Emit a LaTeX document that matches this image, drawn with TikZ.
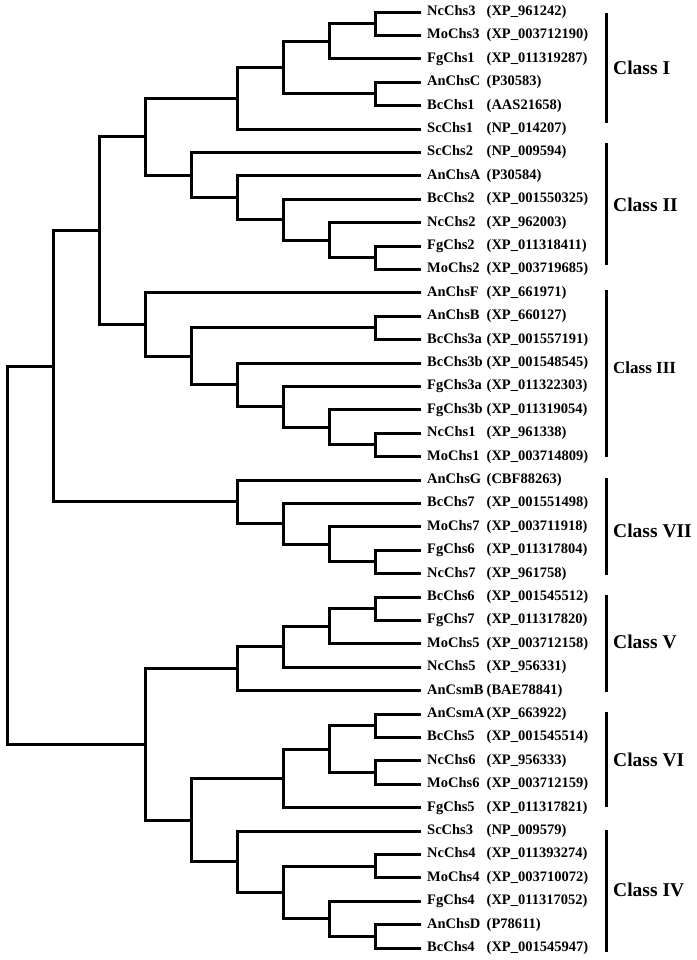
\documentclass[tikz,border=0pt]{standalone}
\usepackage{fontspec}
\setmainfont{Liberation Serif}
\usetikzlibrary{positioning}
\newcommand{\chs}[2]{\makebox[59.5bp][l]{#1}#2}

\begin{document}
\begin{tikzpicture}[
    x=1bp, y=-1bp,
    branch/.style={line width=3bp, line join=miter},
    leaf/.style={inner sep=0pt, font=\bfseries\fontsize{14.5bp}{16bp}\selectfont},
    bar/.style={line width=3bp},
    cls/.style={anchor=west, inner sep=0pt, font=\bfseries\fontsize{19.5bp}{22bp}\selectfont}
]
    \useasboundingbox (0,0) rectangle (697,960);

    % tips
    \coordinate (l0) at (421,12);     \coordinate (l1) at (421,35.4);
    \coordinate (l2) at (421,58.8);   \coordinate (l3) at (421,82.2);
    \coordinate (l4) at (421,105.6);  \coordinate (l5) at (421,129);
    \coordinate (l6) at (421,152.4);  \coordinate (l7) at (421,175.8);
    \coordinate (l8) at (421,199.2);  \coordinate (l9) at (421,222.6);
    \coordinate (l10) at (421,246);   \coordinate (l11) at (421,269.4);
    \coordinate (l12) at (421,292.8); \coordinate (l13) at (421,316.2);
    \coordinate (l14) at (421,339.6); \coordinate (l15) at (421,363);
    \coordinate (l16) at (421,386.4); \coordinate (l17) at (421,409.8);
    \coordinate (l18) at (421,433.2); \coordinate (l19) at (421,456.6);
    \coordinate (l20) at (421,480);   \coordinate (l21) at (421,503.4);
    \coordinate (l22) at (421,526.8); \coordinate (l23) at (421,550.2);
    \coordinate (l24) at (421,573.6); \coordinate (l25) at (421,597);
    \coordinate (l26) at (421,620.4); \coordinate (l27) at (421,643.8);
    \coordinate (l28) at (421,667.2); \coordinate (l29) at (421,690.6);
    \coordinate (l30) at (421,714);   \coordinate (l31) at (421,737.4);
    \coordinate (l32) at (421,760.8); \coordinate (l33) at (421,784.2);
    \coordinate (l34) at (421,807.6); \coordinate (l35) at (421,831);
    \coordinate (l36) at (421,854.4); \coordinate (l37) at (421,877.8);
    \coordinate (l38) at (421,901.2); \coordinate (l39) at (421,924.6);
    \coordinate (l40) at (421,948);

    % leaf labels
    \node[leaf, right=6bp of l0] (ncchs3) {\chs{NcChs3}{(XP\_961242)}};
    \node[leaf, right=6bp of l1] (mochs3) {\chs{MoChs3}{(XP\_003712190)}};
    \node[leaf, right=6bp of l2] (fgchs1) {\chs{FgChs1}{(XP\_011319287)}};
    \node[leaf, right=6bp of l3] (anchsc) {\chs{AnChsC}{(P30583)}};
    \node[leaf, right=6bp of l4] (bcchs1) {\chs{BcChs1}{(AAS21658)}};
    \node[leaf, right=6bp of l5] (scchs1) {\chs{ScChs1}{(NP\_014207)}};
    \node[leaf, right=6bp of l6] (scchs2) {\chs{ScChs2}{(NP\_009594)}};
    \node[leaf, right=6bp of l7] (anchsa) {\chs{AnChsA}{(P30584)}};
    \node[leaf, right=6bp of l8] (bcchs2) {\chs{BcChs2}{(XP\_001550325)}};
    \node[leaf, right=6bp of l9] (ncchs2) {\chs{NcChs2}{(XP\_962003)}};
    \node[leaf, right=6bp of l10] (fgchs2) {\chs{FgChs2}{(XP\_011318411)}};
    \node[leaf, right=6bp of l11] (mochs2) {\chs{MoChs2}{(XP\_003719685)}};
    \node[leaf, right=6bp of l12] (anchsf) {\chs{AnChsF}{(XP\_661971)}};
    \node[leaf, right=6bp of l13] (anchsb) {\chs{AnChsB}{(XP\_660127)}};
    \node[leaf, right=6bp of l14] (bcchs3a) {\chs{BcChs3a}{(XP\_001557191)}};
    \node[leaf, right=6bp of l15] (bcchs3b) {\chs{BcChs3b}{(XP\_001548545)}};
    \node[leaf, right=6bp of l16] (fgchs3a) {\chs{FgChs3a}{(XP\_011322303)}};
    \node[leaf, right=6bp of l17] (fgchs3b) {\chs{FgChs3b}{(XP\_011319054)}};
    \node[leaf, right=6bp of l18] (ncchs1) {\chs{NcChs1}{(XP\_961338)}};
    \node[leaf, right=6bp of l19] (mochs1) {\chs{MoChs1}{(XP\_003714809)}};
    \node[leaf, right=6bp of l20] (anchsg) {\chs{AnChsG}{(CBF88263)}};
    \node[leaf, right=6bp of l21] (bcchs7) {\chs{BcChs7}{(XP\_001551498)}};
    \node[leaf, right=6bp of l22] (mochs7) {\chs{MoChs7}{(XP\_003711918)}};
    \node[leaf, right=6bp of l23] (fgchs6) {\chs{FgChs6}{(XP\_011317804)}};
    \node[leaf, right=6bp of l24] (ncchs7) {\chs{NcChs7}{(XP\_961758)}};
    \node[leaf, right=6bp of l25] (bcchs6) {\chs{BcChs6}{(XP\_001545512)}};
    \node[leaf, right=6bp of l26] (fgchs7) {\chs{FgChs7}{(XP\_011317820)}};
    \node[leaf, right=6bp of l27] (mochs5) {\chs{MoChs5}{(XP\_003712158)}};
    \node[leaf, right=6bp of l28] (ncchs5) {\chs{NcChs5}{(XP\_956331)}};
    \node[leaf, right=6bp of l29] (ancsmb) {\chs{AnCsmB}{(BAE78841)}};
    \node[leaf, right=6bp of l30] (ancsma) {\chs{AnCsmA}{(XP\_663922)}};
    \node[leaf, right=6bp of l31] (bcchs5) {\chs{BcChs5}{(XP\_001545514)}};
    \node[leaf, right=6bp of l32] (ncchs6) {\chs{NcChs6}{(XP\_956333)}};
    \node[leaf, right=6bp of l33] (mochs6) {\chs{MoChs6}{(XP\_003712159)}};
    \node[leaf, right=6bp of l34] (fgchs5) {\chs{FgChs5}{(XP\_011317821)}};
    \node[leaf, right=6bp of l35] (scchs3) {\chs{ScChs3}{(NP\_009579)}};
    \node[leaf, right=6bp of l36] (ncchs4) {\chs{NcChs4}{(XP\_011393274)}};
    \node[leaf, right=6bp of l37] (mochs4) {\chs{MoChs4}{(XP\_003710072)}};
    \node[leaf, right=6bp of l38] (fgchs4) {\chs{FgChs4}{(XP\_011317052)}};
    \node[leaf, right=6bp of l39] (anchsd) {\chs{AnChsD}{(P78611)}};
    \node[leaf, right=6bp of l40] (bcchs4) {\chs{BcChs4}{(XP\_001545947)}};

    % Class I
    \coordinate (c1a) at (375,23.7);   \draw[branch] (l0) -| (c1a) |- (l1);
    \coordinate (c1b) at (329,41.25);  \draw[branch] (c1a) -| (c1b) |- (l2);
    \coordinate (c1c) at (375,93.9);   \draw[branch] (l3) -| (c1c) |- (l4);
    \coordinate (c1d) at (283,67.58);  \draw[branch] (c1b) -| (c1d) |- (c1c);
    \coordinate (c1e) at (237,98.29);  \draw[branch] (c1d) -| (c1e) |- (l5);
    % Class II
    \coordinate (c2a) at (375,257.7);  \draw[branch] (l10) -| (c2a) |- (l11);
    \coordinate (c2b) at (329,240.15); \draw[branch] (l9) -| (c2b) |- (c2a);
    \coordinate (c2c) at (283,219.68); \draw[branch] (l8) -| (c2c) |- (c2b);
    \coordinate (c2d) at (237,197.74); \draw[branch] (l7) -| (c2d) |- (c2c);
    \coordinate (c2e) at (191,175.07); \draw[branch] (l6) -| (c2e) |- (c2d);
    \coordinate (f12) at (145,136.68); \draw[branch] (c1e) -| (f12) |- (c2e);
    % Class III
    \coordinate (c3a) at (375,327.9);  \draw[branch] (l13) -| (c3a) |- (l14);
    \coordinate (c3b) at (375,444.9);  \draw[branch] (l18) -| (c3b) |- (l19);
    \coordinate (c3c) at (329,427.35); \draw[branch] (l17) -| (c3c) |- (c3b);
    \coordinate (c3d) at (283,406.88); \draw[branch] (l16) -| (c3d) |- (c3c);
    \coordinate (c3e) at (237,384.94); \draw[branch] (l15) -| (c3e) |- (c3d);
    \coordinate (c3f) at (191,356.42); \draw[branch] (c3a) -| (c3f) |- (c3e);
    \coordinate (c3g) at (145,324.61); \draw[branch] (l12) -| (c3g) |- (c3f);
    \coordinate (g123) at (99,230.65); \draw[branch] (f12) -| (g123) |- (c3g);
    % Class VII
    \coordinate (c7a) at (375,561.9);  \draw[branch] (l23) -| (c7a) |- (l24);
    \coordinate (c7b) at (329,544.35); \draw[branch] (l22) -| (c7b) |- (c7a);
    \coordinate (c7c) at (283,523.88); \draw[branch] (l21) -| (c7c) |- (c7b);
    \coordinate (c7d) at (237,501.94); \draw[branch] (l20) -| (c7d) |- (c7c);
    \coordinate (upper) at (53,366.3); \draw[branch] (g123) -| (upper) |- (c7d);
    % Class V
    \coordinate (c5a) at (375,608.7);  \draw[branch] (l25) -| (c5a) |- (l26);
    \coordinate (c5b) at (329,626.25); \draw[branch] (c5a) -| (c5b) |- (l27);
    \coordinate (c5c) at (283,646.73); \draw[branch] (c5b) -| (c5c) |- (l28);
    \coordinate (c5d) at (237,668.66); \draw[branch] (c5c) -| (c5d) |- (l29);
    % Class VI
    \coordinate (c6a) at (375,725.7);  \draw[branch] (l30) -| (c6a) |- (l31);
    \coordinate (c6b) at (375,772.5);  \draw[branch] (l32) -| (c6b) |- (l33);
    \coordinate (c6c) at (329,749.1);  \draw[branch] (c6a) -| (c6c) |- (c6b);
    \coordinate (c6d) at (283,778.35); \draw[branch] (c6c) -| (c6d) |- (l34);
    % Class IV
    \coordinate (c4a) at (375,866.1);  \draw[branch] (l36) -| (c4a) |- (l37);
    \coordinate (c4b) at (375,936.3);  \draw[branch] (l39) -| (c4b) |- (l40);
    \coordinate (c4c) at (329,918.75); \draw[branch] (l38) -| (c4c) |- (c4b);
    \coordinate (c4d) at (283,892.43); \draw[branch] (c4a) -| (c4d) |- (c4c);
    \coordinate (c4e) at (237,861.71); \draw[branch] (l35) -| (c4e) |- (c4d);
    \coordinate (j64) at (191,820.03); \draw[branch] (c6d) -| (j64) |- (c4e);
    \coordinate (lower) at (145,744.35); \draw[branch] (c5d) -| (lower) |- (j64);
    % root
    \coordinate (root) at (7,555.32);  \draw[branch] (upper) -| (root) |- (lower);

    % classes
    \draw[bar] (606,13) -- (606,123);
    \node[cls] (cls1) at (613,68) {Class I};
    \draw[bar] (606,143) -- (606,265);
    \node[cls] (cls2) at (613,205) {Class II};
    \draw[bar] (606,290) -- (606,457);
    \node[cls, font=\bfseries\fontsize{17bp}{20bp}\selectfont] (cls3) at (613,368) {Class III};
    \draw[bar] (606,478) -- (606,575);
    \node[cls] (cls7) at (613,531) {Class VII};
    \draw[bar] (606,595) -- (606,692);
    \node[cls] (cls5) at (613,642) {Class V};
    \draw[bar] (606,712) -- (606,807);
    \node[cls] (cls6) at (613,760) {Class VI};
    \draw[bar] (606,830) -- (606,952);
    \node[cls] (cls4) at (613,890) {Class IV};
\end{tikzpicture}
\end{document}
